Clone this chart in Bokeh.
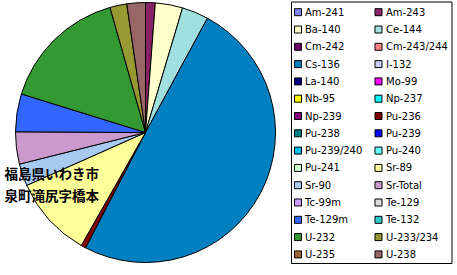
import numpy as np
from bokeh.plotting import figure
from bokeh.models import ColumnDataSource, Range1d
from bokeh.core.properties import value
from bokeh.embed import file_html
from bokeh.resources import INLINE

nuclides = ["Am-241", "Am-243", "Ba-140", "Ce-144", "Cm-242", "Cm-243/244",
            "Cs-136", "I-132", "La-140", "Mo-99", "Nb-95", "Np-237",
            "Np-239", "Pu-236", "Pu-238", "Pu-239", "Pu-239/240", "Pu-240",
            "Pu-241", "Sr-89", "Sr-90", "Sr-Total", "Tc-99m", "Te-129",
            "Te-129m", "Te-132", "U-232", "U-233/234", "U-235", "U-238"]
shares = [0.0, 1.2, 3.4, 3.3, 0.0, 0.0,
          49.7, 0.0, 0.0, 0.0, 0.0, 0.0,
          0.0, 0.6, 0.0, 0.0, 0.0, 0.0,
          0.0, 10.1, 2.75, 4.0, 0.0, 0.0,
          4.7, 0.0, 15.8, 2.1, 0.0, 2.3]
colors = ["#8080FF", "#882266", "#FFFFCC", "#A0E0E0", "#660066", "#FF8080",
          "#0080C0", "#CCCCFF", "#000080", "#FF00FF", "#FFFF00", "#00FFFF",
          "#800080", "#800000", "#008080", "#0000FF", "#00C0F0", "#66FFFF",
          "#CCFFCC", "#FFFF99", "#A6CAF0", "#CC99CC", "#CC99FF", "#DDDDDD",
          "#3366FF", "#33CCCC", "#339933", "#999933", "#996633", "#996666"]
place_lines = ["福島県いわき市", "泉町滝尻字橋本"]

W, H = 457, 275

p = figure(width=W, height=H, output_backend="svg", toolbar_location=None,
           x_range=Range1d(0, W), y_range=Range1d(0, H), min_border=0)
p.axis.visible = False
p.grid.visible = False
p.outline_line_color = None
p.background_fill_color = "white"
p.border_fill_color = "white"

vals = np.array(shares, dtype=float)
frac = vals / vals.sum()
ends = np.cumsum(frac) * 2 * np.pi
starts = ends - frac * 2 * np.pi
mask = vals > 0
pie = ColumnDataSource(dict(
    start=(np.pi / 2 - starts)[mask],
    end=(np.pi / 2 - ends)[mask],
    color=np.array(colors)[mask],
))
cx, cy, r = 145, H - 132, 130
p.wedge(x=cx, y=cy, radius=r, start_angle="start", end_angle="end",
        direction="clock", fill_color="color", line_color="black",
        line_width=1, source=pie)

# place label
p.text(x=[4, 4], y=[H - 172, H - 194], text=place_lines,
       text_font=value("Noto Sans CJK JP"), text_font_size="13.5px",
       text_font_style="bold", text_baseline="middle", text_align="left",
       text_color="black")

# legend box
p.quad(left=[291], right=[451.5], top=[H - 1.5], bottom=[H - 263],
       fill_color="white", line_color="black", line_width=1)

n = len(nuclides)
idx = np.arange(n)
col = idx % 2
row = idx // 2
ly = H - (11.7 + row * 17.3)
mx = np.where(col == 0, 297.5, 378.0)
tx = np.where(col == 0, 304.5, 385.5)
leg = ColumnDataSource(dict(mx=mx, tx=tx, y=ly, name=nuclides, color=colors))
p.rect(x="mx", y="y", width=7, height=7, fill_color="color",
       line_color="black", line_width=1, source=leg)
p.text(x="tx", y="y", text="name", text_font=value("DejaVu Sans"),
       text_font_size="10px", text_baseline="middle", text_align="left",
       text_color="black", source=leg)

open("out.html", "w").write(file_html(p, INLINE))
